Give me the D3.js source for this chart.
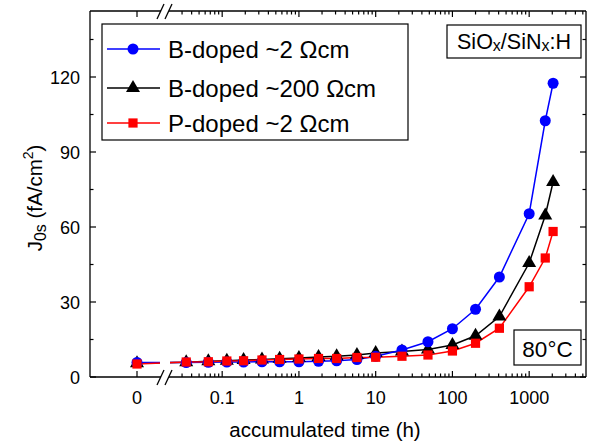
<!DOCTYPE html>
<html><head><meta charset="utf-8">
<script src="https://cdn.jsdelivr.net/npm/d3@7"></script>
<style>body{margin:0;background:#fff;} text{font-family:Arial,"Liberation Sans",sans-serif;}</style>
</head><body><svg id="c" width="590" height="445"></svg>
<script>
const times = [0, 0.034, 0.066, 0.115, 0.19, 0.33, 0.56, 1, 1.8, 3.1, 5.7, 10, 22, 48, 100, 200, 409, 1000, 1620, 2050];
const bLow  = [5.8, 5.8, 5.9, 6.0, 6.0, 6.1, 6.1, 6.1, 6.3, 6.5, 7.0, 8.3, 10.8, 14.1, 19.3, 27.1, 40.0, 65.3, 102.5, 117.5];
const bHigh = [5.5, 5.9, 6.3, 6.5, 6.8, 7.0, 7.3, 7.6, 8.0, 8.3, 8.8, 9.6, 10.2, 11.0, 12.8, 16.5, 24.2, 45.6, 64.6, 78.0];
const pLow  = [5.2, 6.0, 6.1, 6.4, 6.5, 6.8, 7.0, 7.2, 7.4, 7.4, 7.8, 7.9, 8.3, 8.8, 10.4, 13.5, 19.5, 36.1, 47.6, 58.2];
const seriesNames = ["B-doped ~2 \u03A9cm", "B-doped ~200 \u03A9cm", "P-doped ~2 \u03A9cm"];
const seriesColors = ["#0000ff", "#000000", "#ff0000"];
const seriesShapes = ["circle", "triangle", "square"];
const yTicks = [0, 30, 60, 90, 120];
const yMinor = [15, 45, 75, 105, 135];
const xTickVals = [0.1, 1, 10, 100, 1000];
const xTickLabels = ["0.1", "1", "10", "100", "1000"];

const L = 90, R = 586, T = 11, B = 377;
const svg = d3.select("#c");
const y = d3.scaleLinear().domain([0, 146.4]).range([B, T]);
const xLog = d3.scaleLog().domain([0.0209, 5500]).range([170, R]);
const xZero = d3.scaleLinear().domain([-1, 1]).range([L, 184]);
const X = t => t === 0 ? xZero(0) : xLog(t);

const defs = svg.append("defs");
const cp = defs.append("clipPath").attr("id", "gap");
cp.append("rect").attr("x", L).attr("y", T).attr("width", 160 - L).attr("height", B - T);
cp.append("rect").attr("x", 170).attr("y", T).attr("width", R - 170).attr("height", B - T);

const series = [bLow, bHigh, pLow];
const line = d3.line().x((d, i) => X(times[i])).y(d => y(d));
const symbolOf = s => s === "circle" ? d3.symbolCircle : s === "triangle" ? d3.symbolTriangle : d3.symbolSquare;
const sizeOf = s => s === "circle" ? 95 : s === "triangle" ? 85 : 85;

[1, 0, 2].forEach(k => {
  svg.append("path").attr("d", line(series[k])).attr("fill", "none")
    .attr("stroke", seriesColors[k]).attr("stroke-width", 1.5).attr("clip-path", "url(#gap)");
});
[1, 0, 2].forEach(k => {
  svg.append("g").selectAll("path").data(series[k]).join("path")
    .attr("transform", (d, i) => `translate(${X(times[i])},${y(d)})`)
    .attr("d", d3.symbol().type(symbolOf(seriesShapes[k])).size(sizeOf(seriesShapes[k])))
    .attr("fill", seriesColors[k]);
});

const ax = svg.append("g").attr("stroke", "#000").attr("stroke-width", 1.3).attr("fill", "none");
ax.append("line").attr("x1", L).attr("x2", L).attr("y1", T).attr("y2", B);
ax.append("line").attr("x1", R).attr("x2", R).attr("y1", T).attr("y2", B);
[B, T].forEach(yy => {
  ax.append("line").attr("x1", L).attr("x2", 161).attr("y1", yy).attr("y2", yy);
  ax.append("line").attr("x1", 169).attr("x2", R).attr("y1", yy).attr("y2", yy);
  ax.append("line").attr("x1", 157).attr("x2", 164).attr("y1", yy + 8).attr("y2", yy - 7);
  ax.append("line").attr("x1", 165).attr("x2", 172).attr("y1", yy + 8).attr("y2", yy - 7);
});

const tk = svg.append("g").attr("stroke", "#000").attr("stroke-width", 1.2);
yTicks.forEach(v => {
  tk.append("line").attr("x1", L).attr("x2", L + 6).attr("y1", y(v)).attr("y2", y(v));
  tk.append("line").attr("x1", R).attr("x2", R - 6).attr("y1", y(v)).attr("y2", y(v));
});
yMinor.forEach(v => {
  tk.append("line").attr("x1", L).attr("x2", L + 3.5).attr("y1", y(v)).attr("y2", y(v));
  tk.append("line").attr("x1", R).attr("x2", R - 3.5).attr("y1", y(v)).attr("y2", y(v));
});
svg.append("g").selectAll("text").data(yTicks).join("text")
  .attr("x", L - 10).attr("y", d => y(d) + 6.5).attr("text-anchor", "end")
  .attr("font-size", 18).text(d => d);

const majors = [0.1, 1, 10, 100, 1000];
const minors = [];
for (let e = -2; e <= 3; e++) for (let m = 2; m <= 9; m++) {
  const v = m * Math.pow(10, e);
  if (v > 0.025 && v < 5500) minors.push(v);
}
[B, T].forEach(yy => {
  const dir = yy === B ? -1 : 1;
  tk.append("line").attr("x1", xZero(0)).attr("x2", xZero(0)).attr("y1", yy).attr("y2", yy + dir * 6);
  majors.forEach(v => tk.append("line").attr("x1", xLog(v)).attr("x2", xLog(v)).attr("y1", yy).attr("y2", yy + dir * 6));
  minors.forEach(v => tk.append("line").attr("x1", xLog(v)).attr("x2", xLog(v)).attr("y1", yy).attr("y2", yy + dir * 3.5));
});
const xl = svg.append("g").attr("font-size", 18).attr("text-anchor", "middle");
xl.append("text").attr("x", xZero(0)).attr("y", B + 27).text("0");
xTickVals.forEach((v, i) => xl.append("text").attr("x", xLog(v)).attr("y", B + 27).text(xTickLabels[i]));

svg.append("text").attr("x", 325).attr("y", 437).attr("text-anchor", "middle")
  .attr("font-size", 20.5).text("accumulated time (h)");

const yt = svg.append("text").attr("transform", "translate(42,198) rotate(-90)")
  .attr("text-anchor", "middle").attr("font-size", 20.5);
yt.append("tspan").text("J");
yt.append("tspan").attr("font-size", 16).attr("dy", 4).text("0s");
yt.append("tspan").attr("dy", -4).text(" (fA/cm");
yt.append("tspan").attr("font-size", 14).attr("dy", -9).text("2");
yt.append("tspan").attr("dy", 9).text(")");

const lg = svg.append("g");
lg.append("rect").attr("x", 102).attr("y", 24).attr("width", 306).attr("height", 116)
  .attr("fill", "#fff").attr("stroke", "#000").attr("stroke-width", 1.2);
const legY = [49, 88, 123];
seriesNames.forEach((n, k) => {
  lg.append("line").attr("x1", 107).attr("x2", 160).attr("y1", legY[k]).attr("y2", legY[k])
    .attr("stroke", seriesColors[k]).attr("stroke-width", 1.5);
  lg.append("path").attr("transform", `translate(133,${legY[k]})`)
    .attr("d", d3.symbol().type(symbolOf(seriesShapes[k])).size(sizeOf(seriesShapes[k])))
    .attr("fill", seriesColors[k]);
  lg.append("text").attr("x", 168).attr("y", legY[k] + 8.5).attr("font-size", 24).text(n);
});

svg.append("rect").attr("x", 447).attr("y", 25).attr("width", 134).attr("height", 33)
  .attr("fill", "#fff").attr("stroke", "#000").attr("stroke-width", 1.2);
const an = svg.append("text").attr("x", 514).attr("y", 49).attr("text-anchor", "middle").attr("font-size", 21.5);
an.append("tspan").text("SiO");
an.append("tspan").attr("font-size", 16).attr("dy", 2).text("x");
an.append("tspan").attr("dy", -2).text("/SiN");
an.append("tspan").attr("font-size", 16).attr("dy", 2).text("x");
an.append("tspan").attr("dy", -2).text(":H");

svg.append("rect").attr("x", 514).attr("y", 330).attr("width", 67).attr("height", 35)
  .attr("fill", "#fff").attr("stroke", "#000").attr("stroke-width", 1.2);
svg.append("text").attr("x", 547.5).attr("y", 356.5).attr("text-anchor", "middle").attr("font-size", 22.5).text("80°C");
</script></body></html>
